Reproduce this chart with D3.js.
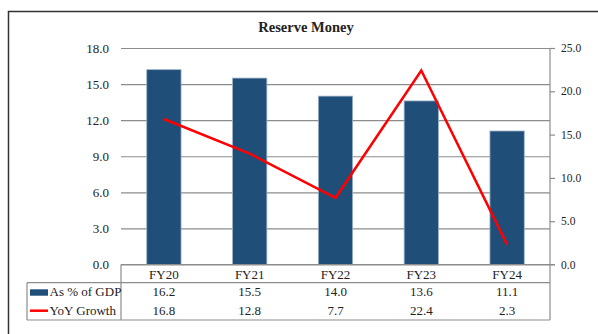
<!DOCTYPE html>
<html>
<head>
<meta charset="utf-8">
<script src="https://cdn.jsdelivr.net/npm/d3@7"></script>
<style>
  html, body { margin: 0; padding: 0; background: #fff; }
  svg { display: block; }
  text { font-family: "Liberation Serif", "DejaVu Serif", serif; fill: #222; }
</style>
</head>
<body>
<svg id="chart" width="598" height="334"></svg>
<script>
// Reserve money: level as % of GDP (bars, left axis) and YoY growth (line, right axis)
const categories = ["FY20", "FY21", "FY22", "FY23", "FY24"];
const pctOfGdp = [16.2, 15.5, 14.0, 13.6, 11.1];
const yoyGrowth = [16.8, 12.8, 7.7, 22.4, 2.3];
const leftTicks = [0, 3, 6, 9, 12, 15, 18];
const rightTicks = [0, 5, 10, 15, 20, 25];
const seriesNames = ["As % of GDP", "YoY Growth"];
const title = "Reserve Money";

const svg = d3.select("#chart");
const plot = { left: 121, right: 550, top: 48, bottom: 264.5 };
const tableRows = { header: 282.7, bottom: 320, tableLeft: 27 };

const x = d3.scaleBand().domain(categories).range([plot.left, plot.right]).paddingInner(0).paddingOuter(0);
const yL = d3.scaleLinear().domain([0, 18]).range([plot.bottom, plot.top]);
const yR = d3.scaleLinear().domain([0, 25]).range([plot.bottom, plot.top]);

const gridColor = "#8c8c8c";
const barColor = "#1f4e79";
const lineColor = "#ff0000";

// outer frame
svg.append("rect")
  .attr("x", 8.5).attr("y", 11.5).attr("width", 620).attr("height", 340)
  .attr("fill", "none").attr("stroke", "#333").attr("stroke-width", 1.5);

// title
svg.append("text")
  .attr("x", 306).attr("y", 32)
  .attr("text-anchor", "middle")
  .style("font-size", "14.5px").style("font-weight", "bold")
  .text(title);

// horizontal gridlines + left axis labels
const leftAxis = d3.axisLeft(yL).tickValues(leftTicks).tickFormat(d3.format(".1f"))
  .tickSize(-(plot.right - plot.left)).tickPadding(12);
const gL = svg.append("g").attr("transform", `translate(${plot.left},0)`).call(leftAxis);
gL.select(".domain").remove();
gL.selectAll(".tick line").attr("stroke", gridColor).attr("stroke-width", 1.2);
gL.selectAll(".tick text").style("font-size", "13px").style("font-family", "Liberation Serif, serif").attr("fill", "#222");

// right axis
const rightAxis = d3.axisRight(yR).tickValues(rightTicks).tickFormat(d3.format(".1f"))
  .tickSize(5).tickPadding(6);
const gR = svg.append("g").attr("transform", `translate(${plot.right},0)`).call(rightAxis);
gR.select(".domain").remove();
gR.selectAll(".tick line").attr("stroke", gridColor).attr("stroke-width", 1.2);
gR.selectAll(".tick text").style("font-size", "11.5px").style("font-family", "Liberation Serif, serif").attr("fill", "#222");

// bars
const barW = x.bandwidth() * 0.4;
svg.append("g").selectAll("rect").data(categories).join("rect")
  .attr("x", (d) => x(d) + (x.bandwidth() - barW) / 2)
  .attr("y", (d, i) => yL(pctOfGdp[i]))
  .attr("width", barW)
  .attr("height", (d, i) => plot.bottom - yL(pctOfGdp[i]))
  .attr("fill", barColor)
  .attr("stroke", "#9fb3c8").attr("stroke-width", 0.8);

// growth line
const line = d3.line()
  .x((d, i) => x(categories[i]) + x.bandwidth() / 2)
  .y((d) => yR(d));
svg.append("path").datum(yoyGrowth)
  .attr("d", line).attr("fill", "none")
  .attr("stroke", lineColor).attr("stroke-width", 2.5)
  .attr("stroke-linejoin", "miter");

// data table lines
const tbl = svg.append("g").attr("stroke", gridColor).attr("stroke-width", 1.2).attr("fill", "none");
tbl.append("line").attr("x1", plot.left).attr("x2", plot.right + 5).attr("y1", plot.bottom).attr("y2", plot.bottom);
tbl.append("line").attr("x1", plot.right).attr("x2", plot.right).attr("y1", plot.top).attr("y2", tableRows.bottom);
tbl.append("line").attr("x1", plot.left).attr("x2", plot.left).attr("y1", plot.bottom).attr("y2", tableRows.bottom);
tbl.append("line").attr("x1", tableRows.tableLeft).attr("x2", plot.right).attr("y1", tableRows.header).attr("y2", tableRows.header);
tbl.append("line").attr("x1", tableRows.tableLeft).attr("x2", plot.right).attr("y1", tableRows.bottom).attr("y2", tableRows.bottom);
tbl.append("line").attr("x1", tableRows.tableLeft).attr("x2", tableRows.tableLeft).attr("y1", tableRows.header).attr("y2", tableRows.bottom);

// category labels
svg.append("g").selectAll("text").data(categories).join("text")
  .attr("x", (d) => x(d) + x.bandwidth() / 2).attr("y", 279)
  .attr("text-anchor", "middle").style("font-size", "13px")
  .text((d) => d);

// value rows
const rowsY = [296, 315];
[pctOfGdp, yoyGrowth].forEach((vals, r) => {
  svg.append("g").selectAll("text").data(vals).join("text")
    .attr("x", (d, i) => x(categories[i]) + x.bandwidth() / 2).attr("y", rowsY[r])
    .attr("text-anchor", "middle").style("font-size", "13px")
    .text((d) => d3.format(".1f")(d));
});

// legend keys in the table
svg.append("rect").attr("x", 30).attr("y", 289.3).attr("width", 18).attr("height", 6.4).attr("fill", barColor);
svg.append("line").attr("x1", 30).attr("x2", 48).attr("y1", 310.7).attr("y2", 310.7)
  .attr("stroke", lineColor).attr("stroke-width", 2.5);
seriesNames.forEach((name, r) => {
  svg.append("text").attr("x", 49.5).attr("y", rowsY[r])
    .style("font-size", "13px").text(name);
});
</script>
</body>
</html>
